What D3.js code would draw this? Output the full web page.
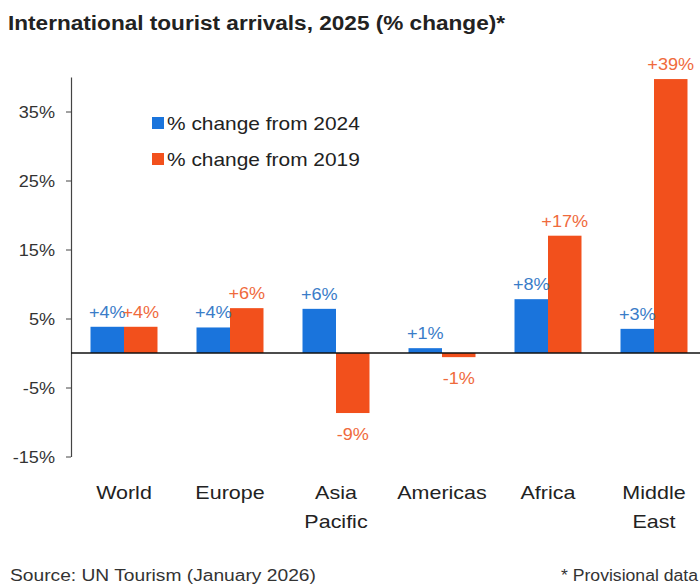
<!DOCTYPE html>
<html>
<head>
<meta charset="utf-8">
<script src="https://cdn.jsdelivr.net/npm/d3@7"></script>
<style>
  html, body { margin: 0; padding: 0; background: #ffffff; }
  svg { display: block; font-family: "Liberation Sans", Arial, sans-serif; }
</style>
</head>
<body>
<svg id="chart" width="700" height="584"></svg>
<script>
const categories = ["World", "Europe", "Asia\nPacific", "Americas", "Africa", "Middle\nEast"];
const change2024 = [3.8, 3.7, 6.4, 0.7, 7.8, 3.5];
const change2019 = [3.8, 6.5, -8.7, -0.6, 17.0, 39.7];
const labels2024 = ["+4%", "+4%", "+6%", "+1%", "+8%", "+3%"];
const labels2019 = ["+4%", "+6%", "-9%", "-1%", "+17%", "+39%"];
const seriesNames = ["% change from 2024", "% change from 2019"];
const yTicks = [-15, -5, 5, 15, 25, 35];

const colors = ["#1a74dc", "#f2501c"];
const labelColors = ["#3a7cc8", "#ef6a3c"];
const STRETCH = 1.13;

const svg = d3.select("#chart");

function stretch(sel, f) {
  sel.each(function() {
    const w = this.getComputedTextLength();
    d3.select(this).attr("textLength", w * (f || STRETCH)).attr("lengthAdjust", "spacingAndGlyphs");
  });
}

const x0 = d3.scaleBand().domain(d3.range(categories.length))
  .range([71, 707]).paddingInner(0.368).paddingOuter(0.184);
const x1 = d3.scaleBand().domain([0, 1]).range([0, x0.bandwidth()]);
const y = d3.scaleLinear().domain([-15, 40]).range([456.5, 77]);

// Title
svg.append("text").attr("x", 8).attr("y", 30)
  .attr("font-size", 20).attr("font-weight", "bold").attr("fill", "#222")
  .attr("textLength", 497).attr("lengthAdjust", "spacingAndGlyphs")
  .text("International tourist arrivals, 2025 (% change)*");

// Y axis
const yAxis = d3.axisLeft(y).tickValues(yTicks).tickSize(5).tickSizeOuter(0)
  .tickFormat(d => d + "%");
const gy = svg.append("g").attr("transform", "translate(71,0)").call(yAxis);
gy.select(".domain").attr("stroke", "#444").attr("stroke-width", 1.2);
gy.selectAll(".tick line").attr("stroke", "#444");
const tickTexts = gy.selectAll(".tick text").attr("font-size", 16).attr("fill", "#333")
  .attr("font-family", "Liberation Sans, Arial, sans-serif").attr("x", -16).attr("dy", "0.35em");
stretch(tickTexts);

// Bars
const data = categories.map((c, i) => ({ i, vals: [change2024[i], change2019[i]], labs: [labels2024[i], labels2019[i]] }));
const groups = svg.append("g").selectAll("g").data(data).join("g")
  .attr("transform", d => `translate(${x0(d.i)},0)`);

groups.selectAll("rect").data(d => d.vals.map((v, s) => ({ v, s })))
  .join("rect")
  .attr("x", d => x1(d.s))
  .attr("width", x1.bandwidth())
  .attr("y", d => y(Math.max(0, d.v)))
  .attr("height", d => Math.abs(y(d.v) - y(0)))
  .attr("fill", d => colors[d.s]);

const valTexts = groups.selectAll("text.val").data(d => d.vals.map((v, s) => ({ v, s, lab: d.labs[s] })))
  .join("text").attr("class", "val")
  .attr("x", d => x1(d.s) + x1.bandwidth() / 2)
  .attr("y", d => d.v >= 0 ? y(d.v) - 9 : y(d.v) + 27)
  .attr("text-anchor", "middle")
  .attr("font-size", 16)
  .attr("fill", d => labelColors[d.s])
  .text(d => d.lab);
stretch(valTexts);

// Zero line
svg.append("line").attr("x1", 71).attr("x2", 700)
  .attr("y1", y(0)).attr("y2", y(0)).attr("stroke", "#111").attr("stroke-width", 1.5);

// X labels
const xg = svg.append("g");
categories.forEach((c, i) => {
  c.split("\n").forEach((ln, k) => {
    const t = xg.append("text")
      .attr("x", x0(i) + x0.bandwidth() / 2)
      .attr("y", 499 + k * 29)
      .attr("text-anchor", "middle")
      .attr("font-size", 19)
      .attr("fill", "#222")
      .text(ln);
    stretch(t);
  });
});

// Legend
const legend = svg.append("g");
seriesNames.forEach((name, s) => {
  legend.append("rect").attr("x", 152).attr("y", 117 + s * 36).attr("width", 12).attr("height", 12)
    .attr("fill", colors[s]);
  const t = legend.append("text").attr("x", 167).attr("y", 130 + s * 36)
    .attr("font-size", 19).attr("fill", "#222").text(name);
  stretch(t, 1.1);
});

// Footer
const f1 = svg.append("text").attr("x", 10).attr("y", 581).attr("font-size", 16).attr("fill", "#333")
  .text("Source: UN Tourism (January 2026)");
stretch(f1, 1.2);
const f2 = svg.append("text").attr("x", 698).attr("y", 581).attr("text-anchor", "end")
  .attr("font-size", 16).attr("fill", "#333").text("* Provisional data");
stretch(f2, 1.1);
</script>
</body>
</html>
